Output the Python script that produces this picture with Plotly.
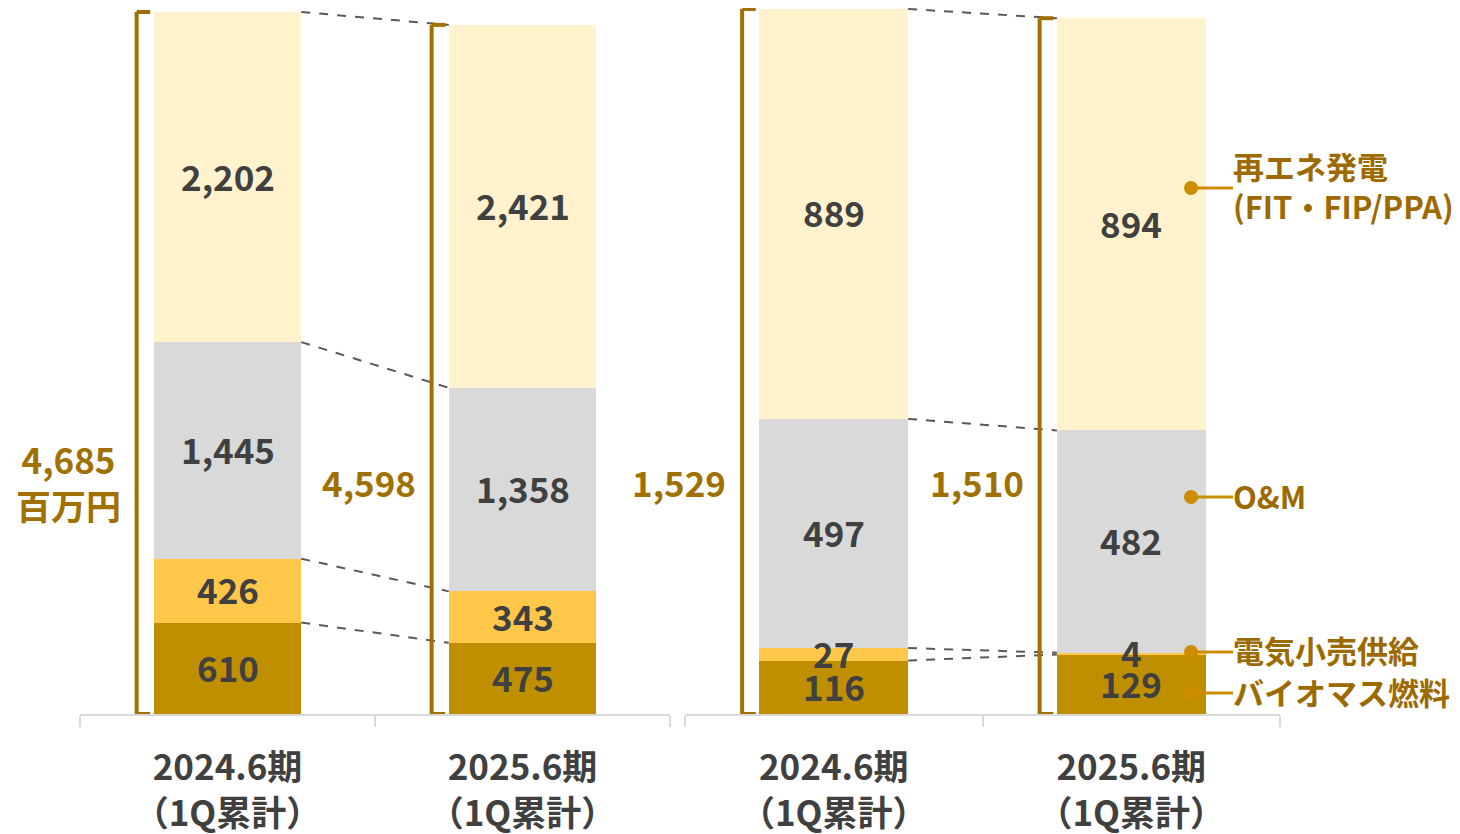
import plotly.graph_objects as go

# ---- data ----
categories = ["2024.6期<br>（1Q累計）", "2025.6期<br>（1Q累計）"]
seg_names = ["バイオマス燃料", "電気小売供給", "O&M", "再エネ発電（FIT・FIP/PPA）"]
seg_colors = ["#BF8F00", "#FFC84A", "#D9D9D9", "#FFF2CC"]

left_values = {  # 百万円
    "バイオマス燃料": [610, 475],
    "電気小売供給": [426, 343],
    "O&M": [1445, 1358],
    "再エネ発電（FIT・FIP/PPA）": [2202, 2421],
}
left_totals = ["4,685", "4,598"]

right_values = {
    "バイオマス燃料": [116, 129],
    "電気小売供給": [27, 4],
    "O&M": [497, 482],
    "再エネ発電（FIT・FIP/PPA）": [889, 894],
}
right_totals = ["1,529", "1,510"]

legend_labels = ["再エネ発電<br>(FIT・FIP/PPA)", "O&M", "電気小売供給", "バイオマス燃料"]

# ---- style ----
W, H = 1460, 834
OFF = 8  # page body margin
FONT = "Noto Sans CJK JP"
LABEL_C = "#404040"
GOLD = "#A07000"
DOT_C = "#CC8E00"
LEGEND_TXT = "#9C6A00"


def px(x):
    return (x - OFF) / W


def py(y):
    return 1 - (y - OFF) / H


fig = go.Figure()

panels = [
    (left_values, left_totals, "x", "y", [px(80), px(670)]),
    (right_values, right_totals, "x2", "y2", [px(685), px(1280)]),
]

annotations = []
shapes = []
ydom = [py(714), 1]

for vals, totals, xa, ya, xdom in panels:
    cum = [[0, 0]]
    for name, col in zip(seg_names, seg_colors):
        v = vals[name]
        fig.add_trace(go.Bar(
            x=categories, y=v, name=name, marker=dict(color=col, line=dict(width=0)),
            xaxis=xa, yaxis=ya, showlegend=False, hoverinfo="skip",
        ))
        base = cum[-1]
        top = [base[i] + v[i] for i in range(2)]
        for i in range(2):
            annotations.append(dict(
                x=categories[i], y=(base[i] + top[i]) / 2, xref=xa, yref=ya, yshift=2,
                text=f"{v[i]:,}", showarrow=False,
                font=dict(family=FONT, size=35, color=LABEL_C, weight="bold"),
            ))
        cum.append(top)
    # dashed connectors
    for c in cum[1:]:
        shapes.append(dict(type="line", xref=xa, yref=ya, x0=0.25, x1=0.75, y0=c[0], y1=c[1],
                           line=dict(color="#595959", width=2, dash="dash")))
    # braces and total labels
    for i in range(2):
        total = cum[-1][i]
        bx = i - 0.308
        bx2 = i - 0.262
        shapes.append(dict(type="line", xref=xa, yref=ya, x0=bx, x1=bx, y0=0, y1=total,
                           line=dict(color=GOLD, width=4)))
        shapes.append(dict(type="line", xref=xa, yref=ya, x0=bx, x1=bx2, y0=0, y1=0,
                           line=dict(color=GOLD, width=4)))
        shapes.append(dict(type="line", xref=xa, yref=ya, x0=bx, x1=bx2, y0=total, y1=total,
                           line=dict(color=GOLD, width=4)))
        txt = totals[i] + ("<br>百万円" if (xa == "x" and i == 0) else "")
        annotations.append(dict(
            x=bx, y=py(481), xref=xa, yref="paper", xanchor="right", yanchor="middle",
            xshift=-14, text=txt, showarrow=False, align="center",
            font=dict(family=FONT, size=35, color=GOLD, weight="bold"),
        ))

# legend-like callouts on the right
legend_y = [188, 497, 652, 693]
legend_text_y = [185, 495, 649, 691]
for lab, yd, yt in zip(legend_labels, legend_y, legend_text_y):
    shapes.append(dict(type="line", xref="paper", yref="paper", x0=px(1191), x1=px(1233),
                       y0=py(yd), y1=py(yd), line=dict(color=DOT_C, width=3)))
    r = 7
    shapes.append(dict(type="circle", xref="paper", yref="paper",
                       x0=px(1191 - r), x1=px(1191 + r), y0=py(yd + r), y1=py(yd - r),
                       fillcolor=DOT_C, line=dict(width=0)))
    annotations.append(dict(
        x=px(1231), y=py(yt), xref="paper", yref="paper", xanchor="left", yanchor="middle",
        text=lab, showarrow=False, align="left",
        font=dict(family=FONT, size=31, color=LEGEND_TXT, weight="bold"),
    ))

axis_common = dict(
    type="category", range=[-0.5, 1.5], showline=True, linecolor="#D9D9D9", linewidth=2,
    ticks="outside", tickson="boundaries", ticklen=11, tickcolor="#D9D9D9", tickwidth=2,
    tickfont=dict(family=FONT, size=35, color=LABEL_C, weight="bold"),
    ticklabelstandoff=22,
    showgrid=False, zeroline=False, fixedrange=True,
)
yaxis_common = dict(visible=False, showgrid=False, zeroline=False, fixedrange=True)

scale_left = 702 / 4683
scale_right = 705 / 1529
dom_px = 714 - OFF
fig.update_layout(
    width=W, height=H, margin=dict(l=0, r=0, t=0, b=0),
    paper_bgcolor="white", plot_bgcolor="white",
    barmode="stack", bargap=0.5,
    xaxis=dict(domain=panels[0][4], anchor="y", **axis_common),
    xaxis2=dict(domain=panels[1][4], anchor="y2", **axis_common),
    yaxis=dict(domain=ydom, range=[0, dom_px / scale_left], anchor="x", **yaxis_common),
    yaxis2=dict(domain=ydom, range=[0, dom_px / scale_right], anchor="x2", **yaxis_common),
    annotations=annotations, shapes=shapes,
    font=dict(family=FONT),
)

fig.write_html("out.html")
